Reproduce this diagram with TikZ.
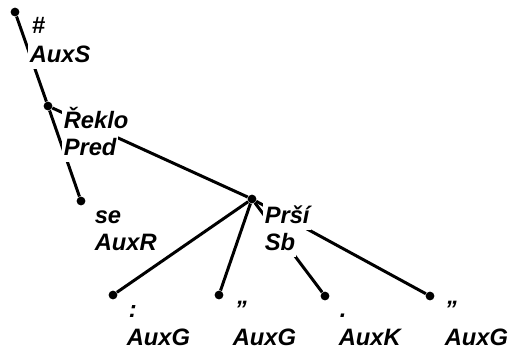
\documentclass[tikz,border=0pt]{standalone}
\usepackage{fontspec}
\setmainfont{Liberation Sans}
\usetikzlibrary{positioning, calc}
\tikzset{
    tnode/.style={
        shape=circle,
        fill=black,
        inner sep=0pt,
        minimum size=5pt
    },
    dep/.style={line width=1.7pt},
    lbl/.style={
        font=\fontsize{13.5}{15}\selectfont\bfseries\itshape,
        fill=white,
        inner xsep=0.8pt,
        inner ysep=3.6pt,
        anchor=base west
    }
}
\begin{document}
\begin{tikzpicture}[x=0.02cm, y=-0.02cm]

\useasboundingbox (0,0) rectangle (508,349);

% Tree nodes
\node[tnode] (root) at (15,12) {};
\node[tnode] (reklo) at (48,106) {};
\node[tnode] (se) at (81,201) {};
\node[tnode] (prsi) at (252,199) {};
\node[tnode] (colon) at (113,295) {};
\node[tnode] (quoteL) at (219,295) {};
\node[tnode] (period) at (325,296) {};
\node[tnode] (quoteR) at (430,296) {};

% Dependencies
\draw[dep] (root) -- (reklo);
\draw[dep] (reklo) -- (se);
\draw[dep] (reklo) -- (prsi);
\draw[dep] (prsi) -- (colon);
\draw[dep] (prsi) -- (quoteL);
\draw[dep] (prsi) -- (period);
\draw[dep] (prsi) -- (quoteR);

% Root
\node[lbl] (root_f) at ($(root)+(15,21)$) {\#};
\node[lbl] (root_a) at ($(root_f.base west)+(-2,29)$) {AuxS};

% Reklo
\node[lbl] (reklo_f) at ($(reklo)+(14,22)$) {Řeklo};
\node[lbl] (reklo_a) at ($(reklo_f.base west)+(0,27)$) {Pred};

% se
\node[lbl] (se_f) at ($(se)+(12,22)$) {se};
\node[lbl] (se_a) at ($(se_f.base west)+(0,27)$) {AuxR};

% Prsi
\node[lbl] (prsi_f) at ($(prsi)+(11,24)$) {Prší};
\node[lbl] (prsi_a) at ($(prsi_f.base west)+(0,27)$) {Sb};

% Leaves
\node[lbl] (colon_f) at ($(colon)+(14,22)$) {:};
\node[lbl] (colon_a) at ($(colon_f.base west)+(-2,28)$) {AuxG};

\node[lbl] (quoteL_f) at ($(quoteL)+(14,22)$) {”};
\node[lbl] (quoteL_a) at ($(quoteL_f.base west)+(-2,28)$) {AuxG};

\node[lbl] (period_f) at ($(period)+(13,21)$) {.};
\node[lbl] (period_a) at ($(period_f.base west)+(-1,28)$) {AuxK};

\node[lbl] (quoteR_f) at ($(quoteR)+(13,21)$) {”};
\node[lbl] (quoteR_a) at ($(quoteR_f.base west)+(0,28)$) {AuxG};

\end{tikzpicture}
\end{document}
